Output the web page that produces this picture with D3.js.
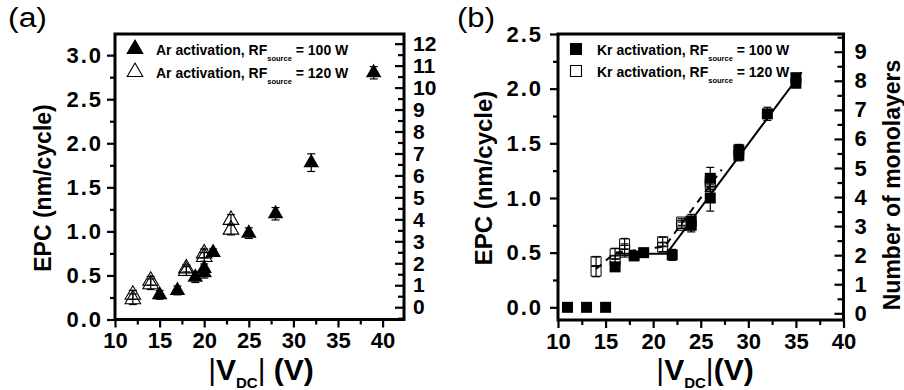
<!DOCTYPE html>
<html>
<head>
<meta charset="utf-8">
<script src="https://cdn.jsdelivr.net/npm/d3@7"></script>
<style>
  body { margin: 0; background: #fff; }
  svg text { font-family: "Liberation Sans", Arial, sans-serif; }
</style>
</head>
<body>
<svg id="chart" width="904" height="390"></svg>
<script>
// (a) Ar activation
const arX100 = [15, 17, 19, 20, 20, 21, 25, 28, 32, 39];
const arY100 = [0.28, 0.33, 0.48, 0.53, 0.58, 0.76, 0.98, 1.2, 1.78, 2.8];
const arE100 = [0.05, 0.05, 0.06, 0.06, 0.05, 0.04, 0.06, 0.07, 0.1, 0.07];
const arX120 = [12, 12, 14, 14, 18, 18, 20, 20, 23, 23];
const arY120 = [0.23, 0.28, 0.4, 0.44, 0.55, 0.58, 0.71, 0.75, 1.02, 1.13];
const arE120 = [0.06, 0.05, 0.06, 0.05, 0.05, 0.04, 0.05, 0.05, 0.06, 0.06];

// (b) Kr activation
const krX100 = [11, 13, 15, 16, 18, 19, 22, 24, 24, 26, 26, 29, 29, 32, 35, 35];
const krY100 = [0, 0, 0, 0.37, 0.47, 0.5, 0.48, 0.75, 0.79, 1.0, 1.18, 1.39, 1.44, 1.77, 2.05, 2.1];
const krE100 = [0, 0, 0, 0.04, 0.04, 0.03, 0.05, 0.06, 0.06, 0.12, 0.1, 0.05, 0.05, 0.06, 0.04, 0.04];
const krX120 = [14, 14, 16, 16, 17, 17, 21, 21, 23, 23, 26, 26];
const krY120 = [0.33, 0.42, 0.43, 0.49, 0.52, 0.58, 0.55, 0.6, 0.75, 0.78, 1.12, 1.15];
const krE120 = [0.05, 0.04, 0.04, 0.05, 0.06, 0.05, 0.04, 0.04, 0.03, 0.03, 0.06, 0.05];

// fit lines in (b)
const fit100X = [16, 21.4, 35.6];
const fit100Y = [0.49, 0.49, 2.15];
const fit120X = [14, 16, 21.2, 27.2];
const fit120Y = [0.35, 0.5, 0.555, 1.26];

// tick values
const xMajor = [10, 15, 20, 25, 30, 35, 40];
const xMinor = [12.5, 17.5, 22.5, 27.5, 32.5, 37.5];
const yMajorA = [0, 0.5, 1, 1.5, 2, 2.5, 3];
const yMajorB = [0, 0.5, 1, 1.5, 2, 2.5];
const monoA = d3.range(0, 13);
const monoB = d3.range(0, 10);

const svg = d3.select("#chart");

function drawPanel(p) {
  const g = svg.append("g");
  const x = d3.scaleLinear().domain(p.xDom).range([p.left, p.right]);
  const y = d3.scaleLinear().domain(p.yDom).range([p.bottom, p.top]);
  const y2 = d3.scaleLinear().domain(p.y2Dom).range([p.bottom, p.top]);

  // minor ticks
  g.append("g").attr("transform", `translate(0,${p.bottom})`)
    .call(d3.axisBottom(x).tickValues(xMinor).tickSize(5).tickFormat(""));
  g.append("g").attr("transform", `translate(${p.left},0)`)
    .call(d3.axisLeft(y).tickValues(p.yMinor).tickSize(5).tickFormat(""));
  g.append("g").attr("transform", `translate(${p.right},0)`)
    .call(d3.axisRight(y2).tickValues(p.y2Minor).tickSize(-6).tickFormat(""));

  // major ticks with labels
  g.append("g").attr("transform", `translate(0,${p.bottom})`)
    .call(d3.axisBottom(x).tickValues(xMajor).tickSize(8).tickPadding(5).tickFormat(d3.format("d")))
    .selectAll("text").attr("font-size", 22);
  g.append("g").attr("transform", `translate(${p.left},0)`)
    .call(d3.axisLeft(y).tickValues(p.yMajor).tickSize(8).tickPadding(p.yPad).tickFormat(d3.format(".1f")))
    .selectAll("text").attr("font-size", 22).attr("letter-spacing", 2);
  g.append("g").attr("transform", `translate(${p.right},0)`)
    .call(d3.axisRight(y2).tickValues(p.y2Major).tickSize(-9).tickPadding(p.y2Pad).tickFormat(d3.format("d")))
    .selectAll("text").attr("font-size", p.y2Font);

  g.selectAll(".domain").remove();
  g.selectAll(".tick line").attr("stroke", "#000").attr("stroke-width", 2.2);
  g.selectAll(".tick text").attr("font-weight", "bold").attr("fill", "#000");

  // frame
  g.append("rect")
    .attr("x", p.left).attr("y", p.top)
    .attr("width", p.right - p.left).attr("height", p.bottom - p.top)
    .attr("fill", "none").attr("stroke", "#000").attr("stroke-width", 3);

  return { g, x, y };
}

function errorBars(g, x, y, xs, ys, es) {
  const idx = d3.range(xs.length).filter(i => es[i] > 0);
  const eb = g.append("g").attr("stroke", "#000").attr("stroke-width", 1.2);
  eb.selectAll("line.v").data(idx).join("line")
    .attr("x1", i => x(xs[i])).attr("x2", i => x(xs[i]))
    .attr("y1", i => y(ys[i] - es[i])).attr("y2", i => y(ys[i] + es[i]));
  eb.selectAll("line.t").data(idx).join("line")
    .attr("x1", i => x(xs[i]) - 4).attr("x2", i => x(xs[i]) + 4)
    .attr("y1", i => y(ys[i] + es[i])).attr("y2", i => y(ys[i] + es[i]));
  eb.selectAll("line.b").data(idx).join("line")
    .attr("x1", i => x(xs[i]) - 4).attr("x2", i => x(xs[i]) + 4)
    .attr("y1", i => y(ys[i] - es[i])).attr("y2", i => y(ys[i] - es[i]));
}

function legendRow(g, lx, ly, shape, filled, label, tail) {
  const sym = d3.symbol().type(shape).size(shape === d3.symbolSquare ? 120 : 105);
  g.append("path").attr("d", sym())
    .attr("transform", `translate(${lx},${ly - 6})`)
    .attr("fill", filled ? "#000" : "none")
    .attr("stroke", "#000").attr("stroke-width", 1.1);
  const t = g.append("text").attr("x", lx + 21).attr("y", ly)
    .attr("font-size", 14).attr("font-weight", "bold");
  t.append("tspan").text(label);
  t.append("tspan").attr("dy", 6).attr("font-size", 7.5).text("source");
  t.append("tspan").attr("dy", -6).text(tail);
}

function xTitle(g, cx, gap) {
  const t = g.append("text").attr("x", cx).attr("y", 380).attr("text-anchor", "middle")
    .attr("font-size", 30).attr("font-weight", "bold");
  t.append("tspan").attr("font-weight", "normal").text("|");
  t.append("tspan").text("V");
  t.append("tspan").attr("dy", 8).attr("font-size", 15).text("DC");
  t.append("tspan").attr("dy", -8).attr("font-weight", "normal").text("|");
  t.append("tspan").text(gap + "(V)");
}

// ---- panel (a)
const A = drawPanel({
  left: 115, right: 404, top: 34, bottom: 319.5,
  xDom: [10, 42.4], yDom: [0, 3.24], y2Dom: [-0.56, 12.44],
  yMajor: yMajorA, yMinor: d3.range(0.25, 3.2, 0.5), yPad: 4,
  y2Major: monoA, y2Minor: d3.range(-0.5, 12.5, 1), y2Pad: 9, y2Font: 21
});
errorBars(A.g, A.x, A.y, arX120, arY120, arE120);
errorBars(A.g, A.x, A.y, arX100, arY100, arE100);
A.g.selectAll("path.tri120").data(d3.range(arX120.length)).join("path")
  .attr("d", d3.symbol().type(d3.symbolTriangle).size(105)())
  .attr("transform", i => `translate(${A.x(arX120[i])},${A.y(arY120[i])})`)
  .attr("fill", "none").attr("stroke", "#000").attr("stroke-width", 1.1);
A.g.selectAll("path.tri100").data(d3.range(arX100.length)).join("path")
  .attr("d", d3.symbol().type(d3.symbolTriangle).size(105)())
  .attr("transform", i => `translate(${A.x(arX100[i])},${A.y(arY100[i])})`)
  .attr("fill", "#000");
legendRow(A.g, 135, 55, d3.symbolTriangle, true, "Ar activation, RF", " = 100 W");
legendRow(A.g, 135, 78, d3.symbolTriangle, false, "Ar activation, RF", " = 120 W");
A.g.append("text").attr("x", 8).attr("y", 27).attr("font-size", 27)
  .attr("textLength", 39).attr("lengthAdjust", "spacingAndGlyphs").text("(a)");
A.g.append("text").attr("transform", "translate(51,188) rotate(-90)").attr("text-anchor", "middle")
  .attr("font-size", 23).attr("font-weight", "bold").text("EPC (nm/cycle)");
xTitle(A.g, 261, " ");

// ---- panel (b)
const B = drawPanel({
  left: 558, right: 843.5, top: 34, bottom: 320,
  xDom: [10, 40], yDom: [-0.116, 2.5], y2Dom: [-0.23, 9.61],
  yMajor: yMajorB, yMinor: d3.range(0.25, 2.5, 0.5), yPad: 7,
  y2Major: monoB, y2Minor: d3.range(0.5, 9.6, 1), y2Pad: 11, y2Font: 22
});
errorBars(B.g, B.x, B.y, krX120, krY120, krE120);
errorBars(B.g, B.x, B.y, krX100, krY100, krE100);
const line = d3.line().x(d => B.x(d[0])).y(d => B.y(d[1]));
B.g.append("path").attr("d", line(fit100X.map((v, i) => [v, fit100Y[i]])))
  .attr("fill", "none").attr("stroke", "#000").attr("stroke-width", 2);
B.g.selectAll("path.sq100").data(d3.range(krX100.length)).join("path")
  .attr("d", d3.symbol().type(d3.symbolSquare).size(121)())
  .attr("transform", i => `translate(${B.x(krX100[i])},${B.y(krY100[i])})`)
  .attr("fill", "#000");
B.g.selectAll("path.sq120").data(d3.range(krX120.length)).join("path")
  .attr("d", d3.symbol().type(d3.symbolSquare).size(100)())
  .attr("transform", i => `translate(${B.x(krX120[i])},${B.y(krY120[i])})`)
  .attr("fill", "none").attr("stroke", "#000").attr("stroke-width", 1);
B.g.append("path").attr("d", line(fit120X.map((v, i) => [v, fit120Y[i]])))
  .attr("fill", "none").attr("stroke", "#000").attr("stroke-width", 2)
  .attr("stroke-dasharray", "7,6");
legendRow(B.g, 576, 55, d3.symbolSquare, true, "Kr activation, RF", " = 100 W");
legendRow(B.g, 576, 77, d3.symbolSquare, false, "Kr activation, RF", " = 120 W");
B.g.append("text").attr("x", 457).attr("y", 27).attr("font-size", 27)
  .attr("textLength", 38).attr("lengthAdjust", "spacingAndGlyphs").text("(b)");
B.g.append("text").attr("transform", "translate(492,178) rotate(-90)").attr("text-anchor", "middle")
  .attr("font-size", 24).attr("font-weight", "bold").text("EPC (nm/cycle)");
B.g.append("text").attr("transform", "translate(900,185) rotate(-90)").attr("text-anchor", "middle")
  .attr("font-size", 23).attr("font-weight", "bold").text("Number of monolayers");
xTitle(B.g, 705, "");
</script>
</body>
</html>
